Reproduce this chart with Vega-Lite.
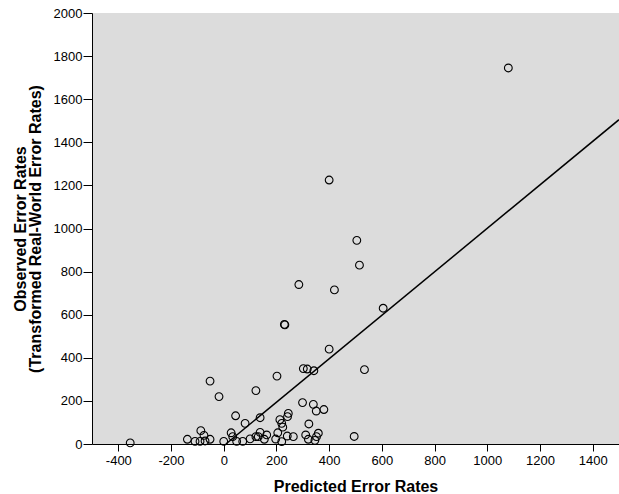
{
  "$schema": "https://vega.github.io/schema/vega-lite/v6.json",
  "width": 527,
  "height": 431,
  "autosize": {"type": "none"},
  "padding": {"left": 92, "top": 13, "right": 0, "bottom": 50},
  "background": "white",
  "config": {
    "view": {"fill": "#dcdcdc", "stroke": null},
    "font": "Liberation Sans",
    "axis": {
      "domainColor": "#000000",
      "tickColor": "#000000",
      "labelColor": "#000000",
      "titleColor": "#000000",
      "labelFont": "Liberation Sans",
      "titleFont": "Liberation Sans",
      "labelFontSize": 13,
      "titleFontSize": 16,
      "titleFontWeight": "bold",
      "grid": false
    }
  },
  "datasets": {
    "pts": [
      {"pred": -355, "obs": 5},
      {"pred": -138, "obs": 22},
      {"pred": -109, "obs": 12},
      {"pred": -90, "obs": 12},
      {"pred": -87, "obs": 62},
      {"pred": -75, "obs": 40},
      {"pred": -71, "obs": 14},
      {"pred": -52, "obs": 22},
      {"pred": -52, "obs": 292},
      {"pred": -18, "obs": 220},
      {"pred": 0, "obs": 12},
      {"pred": 28, "obs": 52},
      {"pred": 34, "obs": 34},
      {"pred": 45, "obs": 131},
      {"pred": 49, "obs": 12},
      {"pred": 72, "obs": 12},
      {"pred": 81, "obs": 96},
      {"pred": 100, "obs": 24},
      {"pred": 122, "obs": 248},
      {"pred": 122, "obs": 34},
      {"pred": 131, "obs": 34},
      {"pred": 138, "obs": 54},
      {"pred": 138, "obs": 122},
      {"pred": 154, "obs": 22},
      {"pred": 163, "obs": 42},
      {"pred": 197, "obs": 23},
      {"pred": 202, "obs": 315},
      {"pred": 205, "obs": 52},
      {"pred": 213, "obs": 113},
      {"pred": 220, "obs": 96},
      {"pred": 220, "obs": 11},
      {"pred": 224, "obs": 78},
      {"pred": 230, "obs": 555},
      {"pred": 232, "obs": 553},
      {"pred": 241, "obs": 37},
      {"pred": 242, "obs": 127},
      {"pred": 245, "obs": 142},
      {"pred": 264, "obs": 34},
      {"pred": 285, "obs": 740},
      {"pred": 299, "obs": 192},
      {"pred": 302, "obs": 350},
      {"pred": 311, "obs": 42},
      {"pred": 317, "obs": 348},
      {"pred": 321, "obs": 22},
      {"pred": 323, "obs": 93},
      {"pred": 340, "obs": 184},
      {"pred": 342, "obs": 340},
      {"pred": 346, "obs": 17},
      {"pred": 351, "obs": 153},
      {"pred": 352, "obs": 34},
      {"pred": 359, "obs": 50},
      {"pred": 380, "obs": 160},
      {"pred": 400, "obs": 1225},
      {"pred": 400, "obs": 440},
      {"pred": 420, "obs": 715},
      {"pred": 495, "obs": 35},
      {"pred": 505, "obs": 945},
      {"pred": 515, "obs": 830},
      {"pred": 534, "obs": 345},
      {"pred": 605, "obs": 630},
      {"pred": 1080, "obs": 1745}
    ],
    "fit": [
      {"pred": 8, "obs": 0},
      {"pred": 1500, "obs": 1505}
    ]
  },
  "layer": [
    {
      "data": {"name": "fit"},
      "mark": {"type": "line", "color": "#000000", "strokeWidth": 1.5, "clip": true},
      "encoding": {
        "x": {"field": "pred", "type": "quantitative"},
        "y": {"field": "obs", "type": "quantitative"}
      }
    },
    {
      "data": {"name": "pts"},
      "mark": {"type": "point", "shape": "circle", "filled": false, "color": "#000000", "strokeWidth": 1.1, "size": 60, "opacity": 1},
      "encoding": {
        "x": {
          "field": "pred", "type": "quantitative",
          "scale": {"domain": [-500, 1500], "nice": false, "zero": false},
          "axis": {"values": [-400, -200, 0, 200, 400, 600, 800, 1000, 1200, 1400], "labelExpr": "toString(datum.value)", "tickSize": 7, "labelPadding": 3, "title": "Predicted Error Rates", "titlePadding": 11}
        },
        "y": {
          "field": "obs", "type": "quantitative",
          "scale": {"domain": [0, 2000], "nice": false},
          "axis": {"values": [0, 200, 400, 600, 800, 1000, 1200, 1400, 1600, 1800, 2000], "labelExpr": "toString(datum.value)", "tickSize": 9, "labelPadding": 1, "title": ["Observed Error Rates", "(Transformed Real-World Error Rates)"], "titlePadding": 10, "titleLineHeight": 15}
        }
      }
    }
  ]
}
